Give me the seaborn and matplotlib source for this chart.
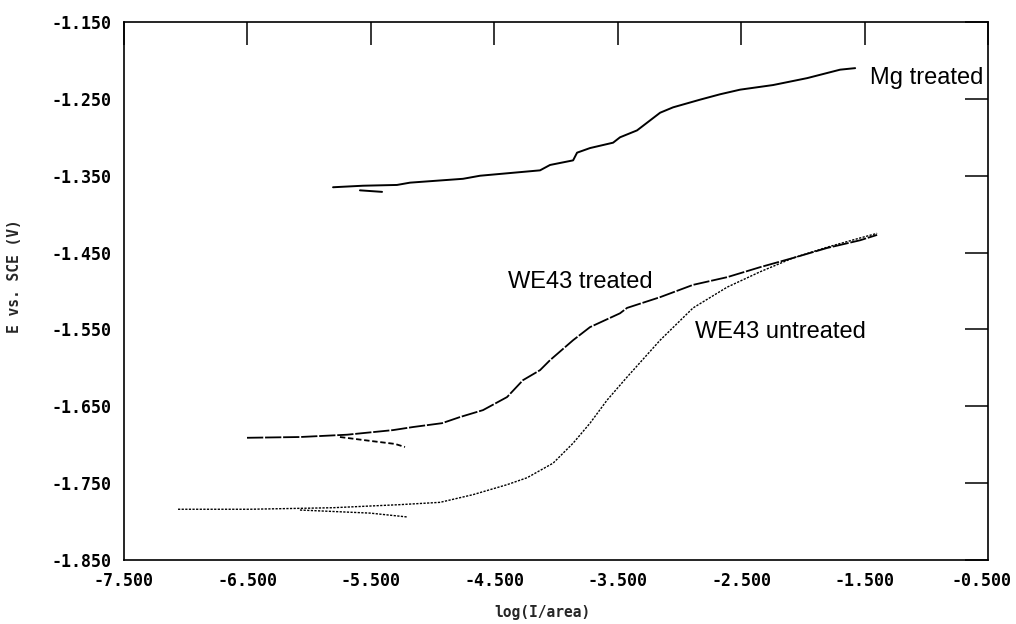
import matplotlib
matplotlib.use("Agg")
import matplotlib.pyplot as plt
import matplotlib.transforms as mtransforms
import seaborn as sns
import pandas as pd
from matplotlib.ticker import FormatStrFormatter

# ---- data ----
mg_x = [-5.806, -5.563, -5.288, -5.182, -4.753, -4.615, -4.129, -4.048, -3.861, -3.829,
        -3.724, -3.537, -3.481, -3.343, -3.156, -3.051, -2.832, -2.670, -2.508, -2.241,
        -1.965, -1.698, -1.576]
mg_y = [-1.365, -1.363, -1.362, -1.359, -1.354, -1.350, -1.343, -1.336, -1.330, -1.320,
        -1.314, -1.307, -1.300, -1.291, -1.268, -1.261, -1.251, -1.244, -1.238, -1.232,
        -1.223, -1.212, -1.210]
mg_back_x = [-5.588, -5.409]
mg_back_y = [-1.369, -1.371]

we43t_x = [-6.503, -6.074, -5.693, -5.320, -5.158, -4.923, -4.777, -4.591, -4.396, -4.267,
           -4.129, -4.048, -3.861, -3.724, -3.481, -3.424, -3.156, -2.889, -2.613, -2.346,
           -2.079, -1.803, -1.536, -1.398]
we43t_y = [-1.691, -1.690, -1.687, -1.681, -1.677, -1.672, -1.664, -1.655, -1.638, -1.616,
           -1.603, -1.590, -1.564, -1.547, -1.529, -1.522, -1.508, -1.492, -1.482, -1.469,
           -1.457, -1.444, -1.434, -1.427]
we43t_back_x = [-5.750, -5.507, -5.304, -5.223]
we43t_back_y = [-1.690, -1.695, -1.699, -1.703]

we43u_x = [-7.062, -6.479, -5.806, -5.263, -4.939, -4.672, -4.396, -4.234, -4.023, -3.861,
           -3.724, -3.586, -3.424, -3.156, -2.889, -2.613, -2.346, -2.079, -1.803, -1.536,
           -1.398]
we43u_y = [-1.784, -1.784, -1.782, -1.778, -1.775, -1.765, -1.752, -1.743, -1.724, -1.698,
           -1.672, -1.642, -1.612, -1.564, -1.522, -1.495, -1.475, -1.457, -1.443, -1.431,
           -1.425]
we43u_back_x = [-6.074, -5.507, -5.207]
we43u_back_y = [-1.785, -1.789, -1.794]

x_ticks = [-7.5, -6.5, -5.5, -4.5, -3.5, -2.5, -1.5, -0.5]
y_ticks = [-1.85, -1.75, -1.65, -1.55, -1.45, -1.35, -1.25, -1.15]
labels = ["Mg treated", "WE43 treated", "WE43 untreated"]

# ---- plotting ----
sns.set_style("white")
plt.rcParams["font.family"] = ["DejaVu Sans Mono", "DejaVu Sans"]

fig, ax = plt.subplots(figsize=(10.16, 6.24), dpi=100)
fig.subplots_adjust(left=0.122, right=0.9724, top=0.9647, bottom=0.1026)


def draw(x, y, dashes=None, lw=1.3):
    df = pd.DataFrame({"x": x, "y": y})
    sns.lineplot(data=df, x="x", y="y", sort=False, estimator=None, color="black",
                 linewidth=lw, ax=ax)
    line = ax.lines[-1]
    if dashes is not None:
        line.set_dashes(dashes)
    return line


draw(mg_x, mg_y, lw=1.4)
draw(mg_back_x, mg_back_y, lw=1.4)
draw(we43t_x, we43t_y, dashes=(9, 1.0), lw=1.3)
draw(we43t_back_x, we43t_back_y, dashes=(3, 1.5), lw=1.3)
draw(we43u_x, we43u_y, dashes=(1.6, 1.0), lw=1.0)
draw(we43u_back_x, we43u_back_y, dashes=(1.6, 1.0), lw=1.0)

ax.set_xlim(-7.5, -0.5)
ax.set_ylim(-1.85, -1.15)
ax.set_xticks(x_ticks)
ax.set_yticks(y_ticks)
ax.xaxis.set_major_formatter(FormatStrFormatter("%.3f"))
ax.yaxis.set_major_formatter(FormatStrFormatter("%.3f"))

for sp in ax.spines.values():
    sp.set_visible(True)
    sp.set_color("black")
    sp.set_linewidth(1.2)

ax.tick_params(axis="both", which="major", direction="in", length=16.5, width=1.1,
               top=True, right=True, colors="black", labelsize=12, pad=9)
for lab in ax.get_xticklabels() + ax.get_yticklabels():
    lab.set_fontweight("bold")

# nudge the last x tick label so it stays inside the canvas
last = ax.get_xticklabels()[-1]
shift = mtransforms.ScaledTranslation(-6 / 100, 0, fig.dpi_scale_trans)
last.set_transform(last.get_transform() + shift)

ax.set_xlabel("log(I/area)", fontsize=10.5, fontweight="bold")
ax.set_ylabel("E vs. SCE (V)", fontsize=10.5, fontweight="bold")
ax.xaxis.set_label_coords(0.485, -0.083)
ax.yaxis.set_label_coords(-0.118, 0.528)

txt_kw = dict(fontsize=17, family=["Liberation Sans", "DejaVu Sans"], color="black",
              ha="center", va="center")
ax.text(-0.999, -1.223, labels[0], zorder=5, clip_on=False,
        bbox=dict(facecolor="white", edgecolor="none", pad=0.5), **txt_kw)
ax.text(-3.805, -1.488, labels[1], **txt_kw)
ax.text(-2.184, -1.553, labels[2], **txt_kw)

fig.savefig("out.png", dpi=100, facecolor="white")
